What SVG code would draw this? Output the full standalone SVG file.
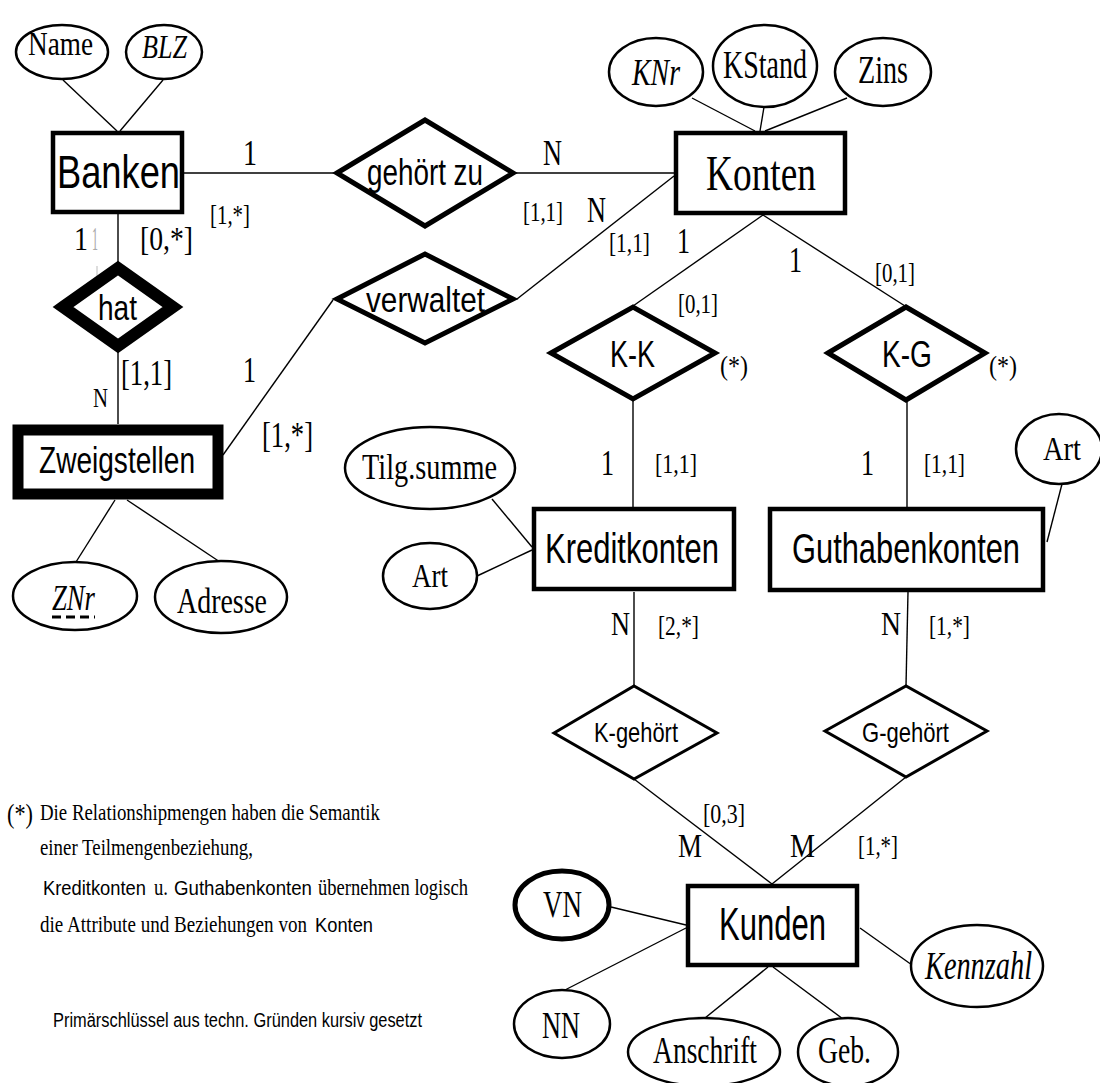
<svg xmlns="http://www.w3.org/2000/svg" width="1100" height="1083" viewBox="0 0 1100 1083">
<style>
.ent{fill:#fff;stroke:#000;stroke-width:4.5}
.rel{fill:#fff;stroke:#000;stroke-width:5;stroke-linejoin:miter}
.attr{fill:#fff;stroke:#000;stroke-width:2.5}
.ln{stroke:#000;stroke-width:1.4;fill:none}
.s{font-family:"Liberation Sans",Arial,sans-serif;fill:#000}
.r{font-family:"Liberation Serif","Times New Roman",serif;fill:#000}
.i{font-family:"Liberation Serif","Times New Roman",serif;font-style:italic;fill:#000}
</style>
<rect width="1100" height="1083" fill="#fff"/>

<g id="connectors">
<line class="ln" x1="63" y1="80" x2="117" y2="131"/>
<line class="ln" x1="163" y1="80" x2="120" y2="131"/>
<line class="ln" x1="184" y1="173" x2="334" y2="173"/>
<line class="ln" x1="516" y1="173" x2="674" y2="173"/>
<line class="ln" x1="674" y1="176" x2="517" y2="299"/>
<line class="ln" x1="223" y1="455" x2="333" y2="300"/>
<line class="ln" x1="118" y1="214" x2="118" y2="262"/>
<line class="ln" x1="118" y1="352" x2="118" y2="424"/>
<line class="ln" x1="692" y1="98" x2="755" y2="131"/>
<line class="ln" x1="764" y1="107" x2="760" y2="131"/>
<line class="ln" x1="847" y1="98" x2="765" y2="131"/>
<line class="ln" x1="763" y1="215" x2="633" y2="306"/>
<line class="ln" x1="763" y1="215" x2="905" y2="306"/>
<line class="ln" x1="633" y1="401" x2="633" y2="507"/>
<line class="ln" x1="907" y1="402" x2="907" y2="507"/>
<line class="ln" x1="492" y1="499" x2="532" y2="547"/>
<line class="ln" x1="477" y1="576" x2="532" y2="550"/>
<line class="ln" x1="1062" y1="484" x2="1047" y2="542"/>
<line class="ln" x1="115" y1="500" x2="76" y2="562"/>
<line class="ln" x1="127" y1="500" x2="220" y2="562"/>
<line class="ln" x1="634" y1="592" x2="634" y2="686"/>
<line class="ln" x1="908" y1="592" x2="906" y2="686"/>
<line class="ln" x1="634" y1="779" x2="772" y2="884"/>
<line class="ln" x1="906" y1="777" x2="772" y2="884"/>
<line class="ln" x1="611" y1="907" x2="686" y2="925"/>
<line class="ln" x1="563" y1="991" x2="686" y2="928"/>
<line class="ln" x1="860" y1="928" x2="912" y2="965"/>
<line class="ln" x1="768" y1="967" x2="705" y2="1018"/>
<line class="ln" x1="773" y1="967" x2="843" y2="1019"/>
<line x1="97" y1="266" x2="97" y2="322" stroke="#bbb" stroke-width="1"/>
</g>

<g id="labels">
<text class="r" x="243" y="165" font-size="36" textLength="14" lengthAdjust="spacingAndGlyphs">1</text>
<text class="r" x="210" y="224" font-size="28" textLength="40" lengthAdjust="spacingAndGlyphs">[1,*]</text>
<text class="r" x="74" y="250" font-size="34" textLength="14" lengthAdjust="spacingAndGlyphs">1</text>
<text x="92" y="250" font-size="34" font-family="Liberation Serif,serif" fill="#aaa" textLength="6" lengthAdjust="spacingAndGlyphs">1</text>
<text class="r" x="140" y="250" font-size="34" textLength="53" lengthAdjust="spacingAndGlyphs">[0,*]</text>
<text class="r" x="543" y="165" font-size="36" textLength="19" lengthAdjust="spacingAndGlyphs">N</text>
<text class="r" x="523" y="221" font-size="28" textLength="40" lengthAdjust="spacingAndGlyphs">[1,1]</text>
<text class="r" x="587" y="222" font-size="36" textLength="19" lengthAdjust="spacingAndGlyphs">N</text>
<text class="r" x="609" y="252" font-size="28" textLength="41" lengthAdjust="spacingAndGlyphs">[1,1]</text>
<text class="r" x="677" y="253" font-size="36" textLength="13" lengthAdjust="spacingAndGlyphs">1</text>
<text class="r" x="789" y="272" font-size="36" textLength="13" lengthAdjust="spacingAndGlyphs">1</text>
<text class="r" x="875" y="282" font-size="28" textLength="40" lengthAdjust="spacingAndGlyphs">[0,1]</text>
<text class="r" x="678" y="313" font-size="28" textLength="40" lengthAdjust="spacingAndGlyphs">[0,1]</text>
<text class="r" x="720" y="375" font-size="28" textLength="28" lengthAdjust="spacingAndGlyphs">(*)</text>
<text class="r" x="989" y="375" font-size="28" textLength="28" lengthAdjust="spacingAndGlyphs">(*)</text>
<text class="r" x="121" y="385" font-size="36" textLength="51" lengthAdjust="spacingAndGlyphs">[1,1]</text>
<text class="r" x="93" y="407" font-size="28" textLength="15" lengthAdjust="spacingAndGlyphs">N</text>
<text class="r" x="243" y="382" font-size="36" textLength="13" lengthAdjust="spacingAndGlyphs">1</text>
<text class="r" x="262" y="447" font-size="36" textLength="51" lengthAdjust="spacingAndGlyphs">[1,*]</text>
<text class="r" x="601" y="475" font-size="36" textLength="13" lengthAdjust="spacingAndGlyphs">1</text>
<text class="r" x="655" y="473" font-size="28" textLength="42" lengthAdjust="spacingAndGlyphs">[1,1]</text>
<text class="r" x="861" y="475" font-size="36" textLength="13" lengthAdjust="spacingAndGlyphs">1</text>
<text class="r" x="924" y="473" font-size="28" textLength="41" lengthAdjust="spacingAndGlyphs">[1,1]</text>
<text class="r" x="611" y="635" font-size="34" textLength="19" lengthAdjust="spacingAndGlyphs">N</text>
<text class="r" x="658" y="635" font-size="28" textLength="41" lengthAdjust="spacingAndGlyphs">[2,*]</text>
<text class="r" x="881" y="635" font-size="34" textLength="20" lengthAdjust="spacingAndGlyphs">N</text>
<text class="r" x="929" y="635" font-size="28" textLength="41" lengthAdjust="spacingAndGlyphs">[1,*]</text>
<text class="r" x="703" y="823" font-size="28" textLength="42" lengthAdjust="spacingAndGlyphs">[0,3]</text>
<text class="r" x="678" y="857" font-size="34" textLength="24" lengthAdjust="spacingAndGlyphs">M</text>
<text class="r" x="790" y="857" font-size="34" textLength="25" lengthAdjust="spacingAndGlyphs">M</text>
<text class="r" x="858" y="855" font-size="28" textLength="40" lengthAdjust="spacingAndGlyphs">[1,*]</text>
</g>

<g id="Banken"><rect class="ent" x="53" y="133" width="129" height="79"/><text class="s" x="57" y="188" font-size="47" textLength="123" lengthAdjust="spacingAndGlyphs">Banken</text></g>
<g id="Name"><ellipse class="attr" cx="62" cy="52" rx="46" ry="27"/><text class="r" x="28" y="55" font-size="34" textLength="65" lengthAdjust="spacingAndGlyphs">Name</text></g>
<g id="BLZ"><ellipse class="attr" cx="164" cy="52" rx="38" ry="27"/><text class="i" x="142" y="58" font-size="34" textLength="45" lengthAdjust="spacingAndGlyphs">BLZ</text></g>

<g id="gehoert_zu"><polygon class="rel" points="337,173 425,120 513,173 425,226"/><text class="s" x="367" y="185" font-size="37" textLength="116" lengthAdjust="spacingAndGlyphs">gehört zu</text></g>
<g id="verwaltet"><polygon class="rel" points="337,299 425,254 513,299 425,343"/><text class="s" x="366" y="312" font-size="35" textLength="119" lengthAdjust="spacingAndGlyphs">verwaltet</text></g>
<g id="hat"><polygon fill="#fff" stroke="#000" stroke-width="12" stroke-linejoin="miter" points="63,307 118,268 173,307 118,346"/><text class="s" x="98" y="320" font-size="35" textLength="39" lengthAdjust="spacingAndGlyphs">hat</text></g>

<g id="Konten"><rect class="ent" x="676" y="133" width="169" height="80"/><text class="r" x="706" y="190" font-size="50" textLength="110" lengthAdjust="spacingAndGlyphs">Konten</text></g>
<g id="KNr"><ellipse class="attr" cx="656" cy="72" rx="47" ry="34"/><text class="i" x="632" y="85" font-size="38" textLength="48" lengthAdjust="spacingAndGlyphs">KNr</text></g>
<g id="KStand"><ellipse class="attr" cx="765" cy="66" rx="52" ry="41"/><text class="r" x="723" y="78" font-size="41" textLength="84" lengthAdjust="spacingAndGlyphs">KStand</text></g>
<g id="Zins"><ellipse class="attr" cx="883" cy="72" rx="48" ry="34"/><text class="r" x="858" y="83" font-size="39" textLength="50" lengthAdjust="spacingAndGlyphs">Zins</text></g>

<g id="Zweigstellen"><rect x="18" y="430" width="200" height="64" fill="#fff" stroke="#000" stroke-width="11"/><text class="s" x="39" y="473" font-size="37" textLength="156" lengthAdjust="spacingAndGlyphs">Zweigstellen</text></g>
<g id="ZNr"><ellipse class="attr" cx="75" cy="596" rx="62" ry="34"/><text class="i" x="52" y="610" font-size="35" textLength="43" lengthAdjust="spacingAndGlyphs">ZNr</text><line x1="52" y1="617" x2="95" y2="617" stroke="#000" stroke-width="3" stroke-dasharray="9,5"/></g>
<g id="Adresse"><ellipse class="attr" cx="221" cy="597" rx="66" ry="36"/><text class="r" x="177" y="613" font-size="35" textLength="90" lengthAdjust="spacingAndGlyphs">Adresse</text></g>

<g id="K-K"><polygon class="rel" points="551,353 633,307 715,353 633,399"/><text class="s" x="610" y="367" font-size="37" textLength="45" lengthAdjust="spacingAndGlyphs">K-K</text></g>
<g id="K-G"><polygon class="rel" points="828,353 906,307 985,353 906,400"/><text class="s" x="882" y="367" font-size="37" textLength="50" lengthAdjust="spacingAndGlyphs">K-G</text></g>

<g id="Kreditkonten"><rect class="ent" x="534" y="509" width="200" height="80"/><text class="s" x="545" y="563" font-size="43" textLength="174" lengthAdjust="spacingAndGlyphs">Kreditkonten</text></g>
<g id="Tilg_summe"><ellipse class="attr" cx="430" cy="468" rx="85" ry="41"/><text class="r" x="362" y="479" font-size="36" textLength="135" lengthAdjust="spacingAndGlyphs">Tilg.summe</text></g>
<g id="Art_K"><ellipse class="attr" cx="430" cy="576" rx="47" ry="33"/><text class="r" x="412" y="587" font-size="33" textLength="36" lengthAdjust="spacingAndGlyphs">Art</text></g>

<g id="Guthabenkonten"><rect class="ent" x="770" y="509" width="273" height="81"/><text class="s" x="792" y="563" font-size="42" textLength="228" lengthAdjust="spacingAndGlyphs">Guthabenkonten</text></g>
<g id="Art_G"><ellipse class="attr" cx="1059" cy="449" rx="43" ry="35"/><text class="r" x="1043" y="460" font-size="33" textLength="38" lengthAdjust="spacingAndGlyphs">Art</text></g>

<g id="K-gehoert"><polygon fill="#fff" stroke="#000" stroke-width="3" points="554,733 634,686 717,733 634,779"/><text class="s" x="594" y="742" font-size="28" textLength="84" lengthAdjust="spacingAndGlyphs">K-gehört</text></g>
<g id="G-gehoert"><polygon fill="#fff" stroke="#000" stroke-width="3" points="825,731 906,686 987,731 906,777"/><text class="s" x="862" y="742" font-size="28" textLength="87" lengthAdjust="spacingAndGlyphs">G-gehört</text></g>

<g id="Kunden"><rect class="ent" x="688" y="886" width="169" height="79"/><text class="s" x="719" y="940" font-size="46" textLength="107" lengthAdjust="spacingAndGlyphs">Kunden</text></g>
<g id="VN"><ellipse fill="#fff" stroke="#000" stroke-width="5" cx="562" cy="905" rx="47" ry="34"/><text class="r" x="543" y="917" font-size="38" textLength="39" lengthAdjust="spacingAndGlyphs">VN</text></g>
<g id="NN"><ellipse class="attr" cx="562" cy="1024" rx="48" ry="34"/><text class="r" x="542" y="1038" font-size="38" textLength="38" lengthAdjust="spacingAndGlyphs">NN</text></g>
<g id="Anschrift"><ellipse class="attr" cx="704" cy="1052" rx="76" ry="34"/><text class="r" x="653" y="1063" font-size="38" textLength="104" lengthAdjust="spacingAndGlyphs">Anschrift</text></g>
<g id="Geb"><ellipse class="attr" cx="848" cy="1052" rx="50" ry="34"/><text class="r" x="818" y="1063" font-size="38" textLength="53" lengthAdjust="spacingAndGlyphs">Geb.</text></g>
<g id="Kennzahl"><ellipse class="attr" cx="977" cy="966" rx="66" ry="41"/><text class="i" x="925" y="979" font-size="39" textLength="107" lengthAdjust="spacingAndGlyphs">Kennzahl</text></g>

<g id="footnote">
<text class="r" x="7" y="823" font-size="28" textLength="26" lengthAdjust="spacingAndGlyphs">(*)</text>
<text class="r" x="40" y="820" font-size="23" textLength="340" lengthAdjust="spacingAndGlyphs">Die Relationshipmengen haben die Semantik</text>
<text class="r" x="40" y="855" font-size="23" textLength="213" lengthAdjust="spacingAndGlyphs">einer Teilmengenbeziehung,</text>
<text y="895"><tspan class="s" x="43" font-size="21" textLength="103" lengthAdjust="spacingAndGlyphs">Kreditkonten</tspan><tspan class="r" x="154" font-size="23" textLength="14" lengthAdjust="spacingAndGlyphs">u.</tspan><tspan class="s" x="174" font-size="21" textLength="138" lengthAdjust="spacingAndGlyphs">Guthabenkonten</tspan><tspan class="r" x="318" font-size="23" textLength="150" lengthAdjust="spacingAndGlyphs">übernehmen logisch</tspan></text>
<text y="932"><tspan class="r" x="40" font-size="23" textLength="267" lengthAdjust="spacingAndGlyphs">die  Attribute und Beziehungen von</tspan><tspan class="s" x="315" font-size="21" textLength="58" lengthAdjust="spacingAndGlyphs">Konten</tspan></text>
<text class="s" x="53" y="1027" font-size="20" textLength="369" lengthAdjust="spacingAndGlyphs">Primärschlüssel aus techn. Gründen kursiv gesetzt</text>
</g>
</svg>
